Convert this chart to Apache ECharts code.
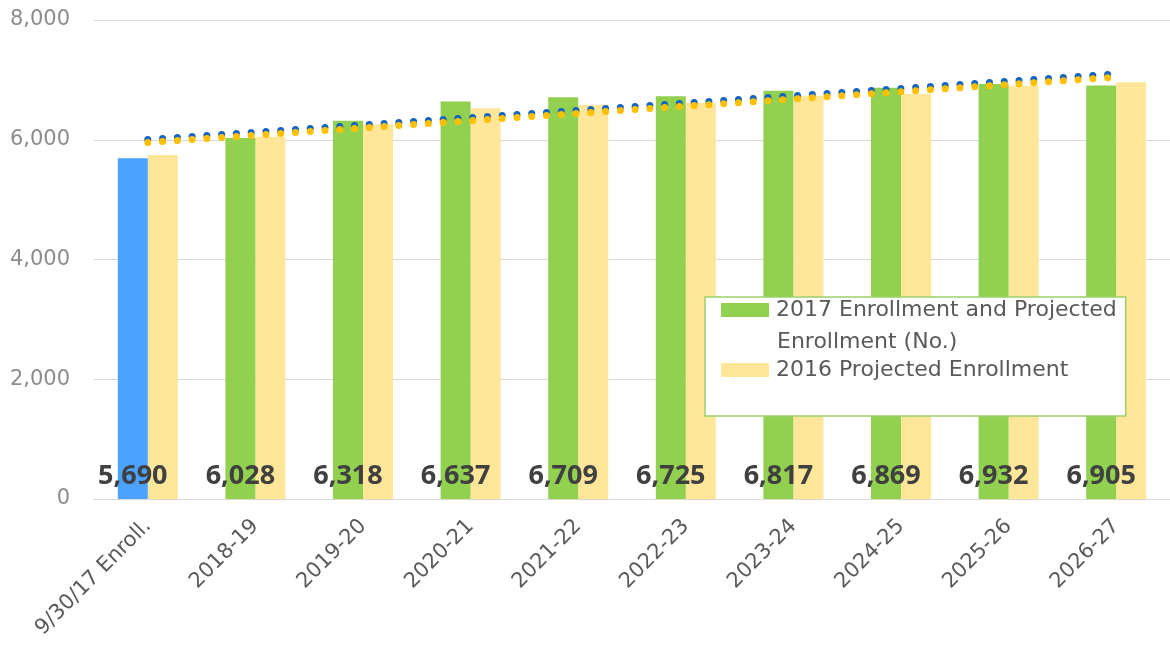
<!DOCTYPE html>
<html>
<head>
<meta charset="utf-8">
<script src="https://cdn.jsdelivr.net/npm/echarts@6/dist/echarts.min.js"></script>
<style>
  html, body { margin: 0; padding: 0; background: #fff; }
  #chart { width: 1170px; height: 654px; }
</style>
</head>
<body>
<div id="chart"></div>
<script>
// School years on the category axis
const categories = ['9/30/17 Enroll.', '2018-19', '2019-20', '2020-21', '2021-22',
                    '2022-23', '2023-24', '2024-25', '2025-26', '2026-27'];

// 2017 actual (first year) and projected enrollment
const enrollment2017 = [5690, 6028, 6318, 6637, 6709, 6725, 6817, 6869, 6932, 6905];

// 2016 projected enrollment
const projected2016 = [5745, 6050, 6260, 6525, 6580, 6620, 6735, 6765, 6900, 6960];

// Linear trend lines: value at the first and last category
const trend2017 = [6005, 7100];
const trend2016 = [5955, 7045];

const yTicks = [0, 2000, 4000, 6000, 8000];

const seriesNames = ['2017 Enrollment and Projected Enrollment (No.)', '2016 Projected Enrollment'];

// spread a two-point trend across the category axis, gaps bridged by connectNulls
function trendData(ends) {
  return categories.map((c, i) => i === 0 ? ends[0] : (i === categories.length - 1 ? ends[1] : null));
}

const fmt = v => v.toLocaleString('en-US');
const axisFont = 'DejaVu Sans, sans-serif';

const chart = echarts.init(document.getElementById('chart'));
chart.setOption({
  animation: false,
  backgroundColor: '#ffffff',
  grid: { left: 94, top: 20, width: 1082, bottom: 155, containLabel: false },
  xAxis: {
    type: 'category',
    data: categories,
    axisLine: { lineStyle: { color: '#d9d9d9', width: 1 } },
    axisTick: { show: false },
    axisLabel: { rotate: 45, fontSize: 21, fontFamily: axisFont, color: '#595959', margin: 24, interval: 0 }
  },
  yAxis: {
    type: 'value',
    min: yTicks[0],
    max: yTicks[yTicks.length - 1],
    interval: 2000,
    axisLine: { show: false },
    axisTick: { show: false },
    splitLine: { lineStyle: { color: '#d9d9d9', width: 1 } },
    axisLabel: { fontSize: 21, fontFamily: axisFont, color: '#8c8c8c', margin: 24, formatter: v => fmt(v) }
  },
  legend: {
    data: seriesNames.map(n => ({ name: n, icon: 'rect' })),
    orient: 'vertical',
    left: 705,
    top: 297,
    backgroundColor: '#ffffff',
    borderColor: '#9ccf6a',
    borderWidth: 1.5,
    padding: [2, 9, 35, 16],
    itemWidth: 48,
    itemHeight: 14,
    itemGap: 38,
    selectedMode: false,
    // the first name wraps: its second line is drawn as a separate text below
    formatter: n => n === seriesNames[0] ? '2017 Enrollment and Projected' : n,
    textStyle: { fontSize: 22, fontFamily: axisFont, color: '#595959', lineHeight: 20, padding: [0, 0, 0, 2] }
  },
  graphic: [{
    type: 'text',
    left: 777,
    top: 331,
    z: 100,
    style: { text: 'Enrollment (No.)', font: '22px "DejaVu Sans", sans-serif', fill: '#595959' }
  }],
  series: [
    {
      name: seriesNames[0],
      type: 'bar',
      barWidth: 30,
      barGap: '0%',
      itemStyle: { color: '#92d050' },
      data: enrollment2017.map((v, i) => i === 0 ? { value: v, itemStyle: { color: '#4ca3ff' } } : v),
      label: {
        show: true,
        position: 'insideBottom',
        distance: 9,
        formatter: p => fmt(p.value),
        fontSize: 27,
        fontFamily: 'Open Sans, sans-serif',
        fontWeight: 'bold',
        color: '#404040'
      },
      z: 3
    },
    {
      name: seriesNames[1],
      type: 'bar',
      barWidth: 30,
      itemStyle: { color: '#ffe699' },
      data: projected2016,
      z: 2
    },
    {
      name: 'trend2017',
      type: 'line',
      data: trendData(trend2017),
      connectNulls: true,
      symbol: 'none',
      lineStyle: { color: '#1565c0', width: 7, type: [0, 14.8], cap: 'round' },
      z: 4
    },
    {
      name: 'trend2016',
      type: 'line',
      data: trendData(trend2016),
      connectNulls: true,
      symbol: 'none',
      lineStyle: { color: '#ffc000', width: 7, type: [0, 14.8], cap: 'round' },
      z: 5
    }
  ]
});
</script>
</body>
</html>
